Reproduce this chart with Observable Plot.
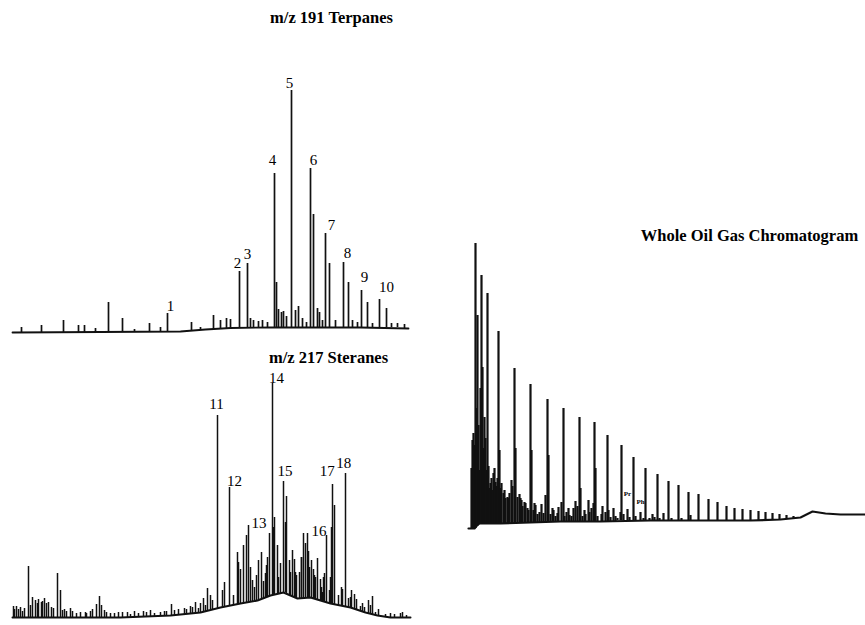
<!DOCTYPE html>
<html><head><meta charset="utf-8">
<script src="https://cdn.jsdelivr.net/npm/d3@7"></script>
<script src="https://cdn.jsdelivr.net/npm/@observablehq/plot@0.6"></script>
<style>
html,body{margin:0;padding:0;background:#fff;}
#page{position:relative;width:865px;height:625px;background:#fff;overflow:hidden;}
#page svg{position:absolute;}
</style></head><body><div id="page"></div>
<script>
// ---------- m/z 191 Terpanes (relative retention 0-100, abundance) ----------
const terpTime = [2.75,7.75,13.25,17,18.5,21.25,24.5,28,31,34.75,37.5,39.25,45.25,47.5,50.75,52.5,54,55,57.25,59.25,60,60.75,62,63,64.25,66,66.5,67,67.75,68.25,69,70.25,71.25,72,73,74,75,75.75,76.75,77.25,78,78.75,79.75,81.25,83.25,84.5,85.5,86.75,87.75,89.25,90.5,92.25,94,95.25,96.75,98.5];
const terpTop  = [5,7,12,7,7,4,30,14,3,9,5,19,10,5,17,12,14,13,61,69,14,12,11,12,10,159,50,23,20,21,16,242,22,26,14,10,164,118,24,20,12,99,69,12,70,50,12,10,42,30,9,33,24,9,9,8];
const terpBase = [0,0,0,0,0,0,0,0,0,1,1,1,2,2,3,3,4,4,4,4,4,4,5,5,5,5,5,5,5,5,5,5,5,5,5,5,5,5,5,5,5,5,5,5,5,5,5,5,5,5,5,5,5,5,5,4];
const terpBaseTime  = [0.5,22.5,42.5,48.75,55,65,77.5,87.5,99.5];
const terpBaseLevel = [0,0.5,1,3,4.5,5,5,5,4];
const terpLabels      = ["1","2","3","4","5","6","7","8","9","10"];
const terpLabelTime   = [40,56.75,59.25,65.5,69.75,75.75,80.25,84.25,88.5,94];
const terpLabelHeight = [26,69,78,172,249,172,107,79,55,45];

// ---------- m/z 217 Steranes ----------
const sterTime = [0.75,2,2.5,3,4.5,6.25,7,7.75,8.5,9.5,10.25,11.75,12.5,14,15,16.5,18.75,20,21.5,22.25,23.5,25,27,29.25,31,33.25,35,37.5,39,40.25,42,43.5,45,46.25,47.5,48.25,49.25,50.5,51.75,53,54.75,55.75,56.75,57.5,58.25,59,59.5,60,60.5,61.5,62,62.75,63.25,63.75,64.25,64.75,65.5,66,66.75,67,67.5,68.25,69,69.75,70,70.5,71,71.5,72.25,72.75,73.25,73.75,74.25,74.75,75.25,75.75,76,76.75,77.5,78,78.5,79,79.75,80,80.5,81,82,82.75,83.75,84.5,85.25,86,87.5,88,89.5,90.5,91.25,93.75,97.5,99];
const sterTop  = [11,8,10,6,51,17,18,15,19,15,10,44,27,6,9,4,5,6,13,21,7,4,5,5,6,6,7,5,6,13,8,9,11,15,14,19,29,17,202,27,130,22,65,48,72,82,92,50,37,42,57,65,36,44,60,84,234,100,72,40,54,136,121,57,45,67,58,42,45,60,84,74,84,50,57,48,42,59,38,25,44,82,27,40,133,112,22,30,144,19,27,23,11,14,17,21,5,3,4,2];
const sterBase = [0,0,0,0,0,0,0,0,0,0,0,0,0,0,0,0,0,0,0,0,0,0,0,0,0,1,1,1,1,2,2,3,4,4,5,6,7,8,9,10,11,12,13,14,14,15,15,16,16,17,17,18,18,19,20,21,22,22,23,23,24,25,24,23,22,21,20,19,19,19,20,20,20,20,20,19,19,18,17,16,16,15,14,14,14,13,12,12,11,10,9,8,6,5,4,3,2,1,0,0];
const sterMinorTime = [1,1.5,3.5,5,5.5,6.75,8,9,10.75,13,13.5,15.5,17.5,19,20.5,22.75,24,26,28,30,32,34,36,38.5,41,44,45.5,47,48.75,50,53.5,57,61,64,65.75,68.75,71.25,72.75,74.5,76.25,77.75,78.25,80.25,83,85,86.5,88.5,90,92,95,96,98];
const sterMinorTop  = [8,11,9,12,20,14,16,14,9,7,8,6,5,4,8,12,5,4,5,3,4,5,4,6,7,8,10,9,12,22,35,55,30,52,90,95,45,60,66,40,30,40,90,28,20,18,10,12,8,4,3,5];
const sterMinorBase = [0,0,0,0,0,0,0,0,0,0,0,0,0,0,0,0,0,0,0,0,0,0,1,1,2,3,4,5,6,8,10,14,17,20,22,25,20,19,20,18,16,16,14,12,9,7,5,3,2,0,0,0];
const sterBaseTime  = [0.5,27.5,40,47.5,52.5,57.5,61.75,65,68.25,71.75,75,80,85,88.75,91.75,95,100];
const sterBaseLevel = [0,0,2,5,10,14,17,22,25,19,20,14,10,5,2,0,0];
const sterLabels      = ["11","12","13","14","15","16","17","18"];
const sterLabelTime   = [51.5,56,62.1,66.5,68.6,77.1,79.2,83.3];
const sterLabelHeight = [213,136,94,239,146,86,146,154];

// ---------- Whole Oil Gas Chromatogram ----------
const oilTime = [1.75,2.25,2.5,3,3.25,3.5,4,4.25,4.5,4.75,5.25,5.5,6.25,7,7.5,8.25,8.5,9.5,10.5,10.75,11.5,12.25,12.5,13,14,14.75,15.5,16.25,16.5,17.5,19,20,20.5,20.75,22,23.25,24,24.5,25.75,27.5,28.5,28.75,29.75,30.75,32.25,32.5,34.25,35.5,35.75,37,38.75,39,40.5,42,43.75,45,46.75,48,49.5,50.75,53.25,55.75,56.25,58.25,60.75,63,65.25,67.25,69.25,71.25,73.25,75,76.75,78.5,80.25,82];
const oilTop  = [88,83,285,213,103,58,253,161,80,111,58,235,45,55,46,197,78,35,31,30,48,160,80,31,28,26,20,144,78,23,24,33,129,73,18,21,26,120,20,27,111,40,18,28,106,60,22,93,18,20,16,83,19,71,16,60,14,54,15,47,43,36,13,34,29,26,22,20,19,18,17,16,15,14,13,12];
const oilBase = [0,0,0,2,3,4,4,4,4,5,5,5,5,5,5,5,5,5,5,5,5,5,5,5,5,6,6,6,6,6,6,6,6,6,7,7,7,7,7,7,7,7,7,7,7,7,7,7,7,7,8,8,8,8,8,8,8,8,8,8,8,8,8,8,8,8,8,8,8,8,8,8,8,9,9,10];
const oilMinorTime = [1.5,2,2.75,3.75,5,5.75,6,6.5,6.75,7.25,7.75,8,8.75,9,9.75,10,11,11.75,13.5,13.75,14.25,15,15.75,17,17.25,18,18.5,19.5,21.25,21.75,22.5,23,24.75,25.25,26,26.5,27,28,29.25,30,31,31.5,32,33,34,35,36.25,37.5,38,39.5,41,42.5,44.5,46,47.25,48.5,51.5,54];
const oilMinorTop  = [60,95,120,140,90,62,40,50,38,60,42,50,40,45,38,30,35,42,34,30,22,25,18,18,25,14,16,15,14,20,12,15,12,16,13,12,20,22,12,14,16,20,25,12,14,16,11,12,10,14,11,12,10,10,11,10,10,10];
const oilMinorBase = [0,0,2,4,4,5,5,5,5,5,5,5,5,5,5,5,5,5,5,5,5,6,6,6,6,6,6,6,6,6,7,7,7,7,7,7,7,7,7,7,7,7,7,7,7,7,7,7,8,8,8,8,8,8,8,8,8,8];
const oilBaseTime  = [0.75,2.25,3.25,8.75,16.25,23.75,33.75,46.25,58.75,71.25,78.75,83.75,86.75,90,93.75,100];
const oilBaseLevel = [0,0,5,5,6,7,7,8,8,8,9,11,17,15,14,14];
const oilLabels      = ["Pr","Ph"];
const oilLabelTime   = [40.5,43.75];
const oilLabelHeight = [35,27];

const titles = ["m/z 191 Terpanes","m/z 217 Steranes","Whole Oil Gas Chromatogram"];

// ---------- build tables ----------
const peaks = (t, top, base) => t.map((x, i) => ({t: x, top: top[i], base: base[i]}));
const series = (t, v) => t.map((x, i) => ({t: x, v: v[i]}));
const labels = (s, t, v) => s.map((d, i) => ({label: d, t: t[i], v: v[i]}));

const serif = "'Liberation Serif','Times New Roman',serif";
const ink = "#111";

function panel({width, height, xRange, yDomain, yRange, pk, base, lab, labSize, labWeight, title, titleX, titleY, sw, bw}) {
  return Plot.plot({
    width, height,
    margin: 0,
    style: {background: "transparent", overflow: "visible"},
    x: {domain: [0, 100], range: xRange, axis: null},
    y: {domain: yDomain, range: yRange, axis: null},
    marks: [
      Plot.line(base, {x: "t", y: "v", stroke: ink, strokeWidth: bw}),
      Plot.ruleX(pk, {x: "t", y1: "base", y2: "top", stroke: ink, strokeWidth: sw}),
      Plot.text(lab, {x: "t", y: "v", text: "label", fontSize: labSize, fontWeight: labWeight, fontFamily: serif, fill: "black"}),
      Plot.text([title], {frameAnchor: "top-left", dx: titleX, dy: titleY, textAnchor: "middle", lineAnchor: "middle",
        fontSize: 16.5, fontWeight: "bold", fontFamily: serif, fill: "black"})
    ]
  });
}

const page = document.getElementById("page");

const terp = panel({width: 430, height: 340, xRange: [10, 410], yDomain: [0, 268], yRange: [332, 64],
  pk: peaks(terpTime, terpTop, terpBase), base: series(terpBaseTime, terpBaseLevel),
  lab: labels(terpLabels, terpLabelTime, terpLabelHeight), labSize: 15, labWeight: "normal",
  title: titles[0], titleX: 331, titleY: 17, sw: 1.7, bw: 1.8});
terp.style.left = "0px"; terp.style.top = "0px";
page.appendChild(terp);

const ster = panel({width: 430, height: 285, xRange: [10, 410], yDomain: [0, 250], yRange: [277, 27],
  pk: peaks(sterTime, sterTop, sterBase).concat(peaks(sterMinorTime, sterMinorTop, sterMinorBase)),
  base: series(sterBaseTime, sterBaseLevel),
  lab: labels(sterLabels, sterLabelTime, sterLabelHeight), labSize: 15, labWeight: "normal",
  title: titles[1], titleX: 328, titleY: 17, sw: 1.5, bw: 2});
ster.style.left = "0px"; ster.style.top = "340px";
page.appendChild(ster);

const oil = panel({width: 425, height: 340, xRange: [25, 425], yDomain: [0, 300], yRange: [328, 28],
  pk: peaks(oilTime, oilTop, oilBase).concat(peaks(oilMinorTime, oilMinorTop, oilMinorBase)),
  base: series(oilBaseTime, oilBaseLevel),
  lab: labels(oilLabels, oilLabelTime, oilLabelHeight), labSize: 7, labWeight: "bold",
  title: titles[2], titleX: 309, titleY: 35, sw: 2.2, bw: 2.2});
oil.style.left = "440px"; oil.style.top = "200px";
page.appendChild(oil);
</script></body></html>
